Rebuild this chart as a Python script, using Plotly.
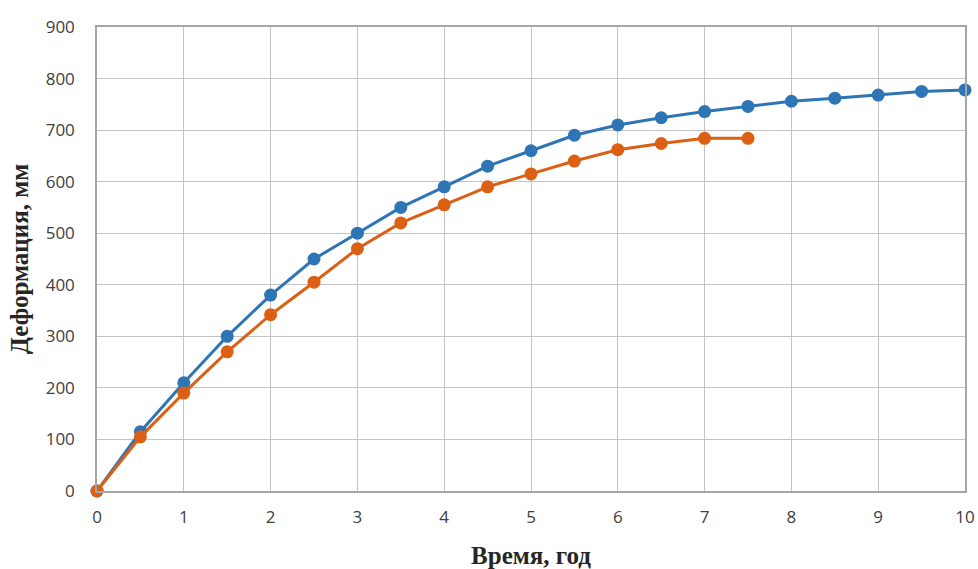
import plotly.graph_objects as go

t_blue = [0, 0.5, 1, 1.5, 2, 2.5, 3, 3.5, 4, 4.5, 5, 5.5, 6, 6.5, 7, 7.5, 8, 8.5, 9, 9.5, 10]
d_blue = [0, 115, 210, 300, 380, 450, 500, 550, 590, 630, 660, 690, 710, 724, 736, 746, 756, 762, 768, 775, 778]

t_orange = [0, 0.5, 1, 1.5, 2, 2.5, 3, 3.5, 4, 4.5, 5, 5.5, 6, 6.5, 7, 7.5]
d_orange = [0, 105, 190, 270, 342, 405, 470, 520, 555, 590, 615, 640, 662, 674, 684, 684]

x_ticks = [0, 1, 2, 3, 4, 5, 6, 7, 8, 9, 10]
y_ticks = [0, 100, 200, 300, 400, 500, 600, 700, 800, 900]

fig = go.Figure()
fig.add_trace(go.Scatter(x=t_blue, y=d_blue, mode="lines+markers",
                         line=dict(color="#2E75B6", width=3),
                         marker=dict(color="#2E75B6", size=13), showlegend=False,
                         cliponaxis=False))
fig.add_trace(go.Scatter(x=t_orange, y=d_orange, mode="lines+markers",
                         line=dict(color="#DC6014", width=3),
                         marker=dict(color="#DC6014", size=13), showlegend=False,
                         cliponaxis=False))

title_font = dict(family="Liberation Serif, Times New Roman, serif", size=25, color="#262626")

fig.update_layout(
    width=978, height=569,
    margin=dict(l=97, r=13, t=27, b=78, autoexpand=False),
    paper_bgcolor="white", plot_bgcolor="white",
    font=dict(family="Open Sans, Liberation Sans, sans-serif", size=17, color="#404040"),
    xaxis=dict(range=[0, 10], tickvals=x_ticks, showgrid=True, gridcolor="#C3C3C3", gridwidth=1.3,
               zeroline=False, showline=True, linecolor="#A6A6A6", linewidth=1.5,
               ticks="", ticklabelstandoff=10, automargin=False,
               title=dict(text="<b>Время, год</b>", standoff=21, font=title_font)),
    yaxis=dict(range=[0, 900], tickvals=y_ticks, showgrid=True, gridcolor="#C3C3C3", gridwidth=1.3,
               zeroline=False, showline=True, linecolor="#A6A6A6", linewidth=1.5,
               ticks="", ticklabelstandoff=17, automargin=False,
               title=dict(text="<b>Деформация, мм</b>", standoff=10, font=title_font)),
)
fig.update_xaxes(mirror=True)
fig.update_yaxes(mirror=True)

fig.write_html("out.html", config={"displayModeBar": False},
               post_script="document.body.style.margin='0';document.body.style.overflow='hidden';")
